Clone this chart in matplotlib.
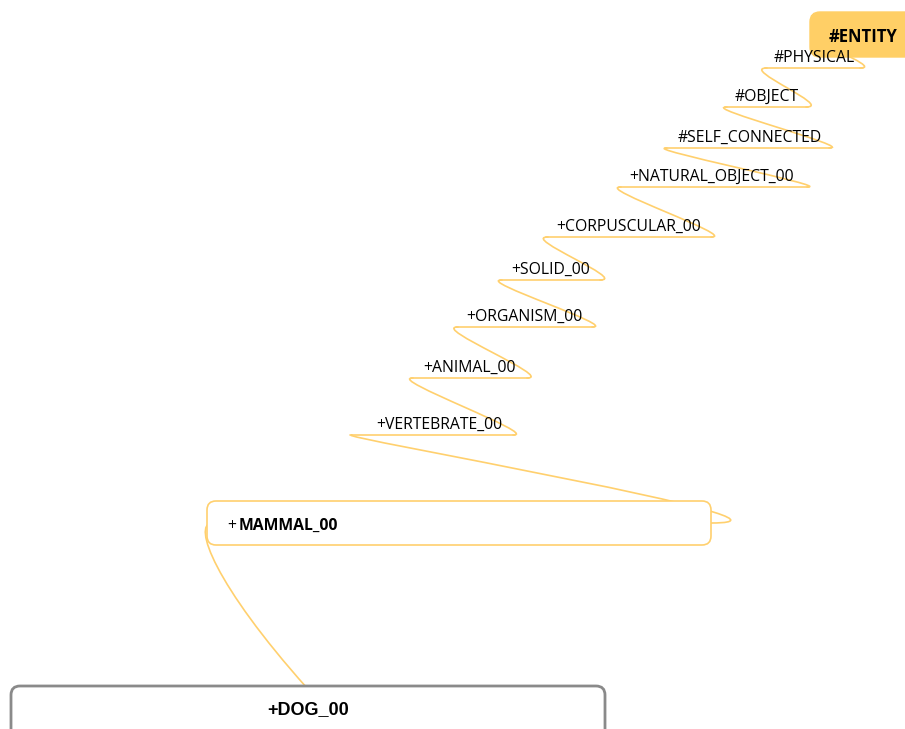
import matplotlib
matplotlib.use("Agg")
import matplotlib.pyplot as plt
from matplotlib.patches import FancyBboxPatch, PathPatch
from matplotlib.path import Path

# hierarchy (top -> bottom)
root_label = "#ENTITY"
chain_labels = ["#PHYSICAL", "#OBJECT", "#SELF_CONNECTED", "+NATURAL_OBJECT_00",
                "+CORPUSCULAR_00", "+SOLID_00", "+ORGANISM_00", "+ANIMAL_00",
                "+VERTEBRATE_00"]
parent_label = "MAMMAL_00"
focus_label = "+DOG_00"

# layout of the mind map (pixels)
chain_y = [68, 107, 148, 187, 237, 280, 327, 378, 435]
chain_x0 = [762, 722, 662, 616, 543, 497, 453, 408, 347]
chain_x1 = [866, 811, 834, 812, 716, 605, 597, 532, 518]
chain_tx = [774, 735, 678, 629, 556, 511, 466, 423, 376]

LINE = "#ffd06e"
FILL = "#ffcf66"
FS = 11.3

fig = plt.figure(figsize=(9.05, 7.29), dpi=100)
ax = fig.add_axes([0, 0, 1, 1])
ax.set_xlim(0, 905)
ax.set_ylim(729, 0)
ax.axis("off")


def connector(x0, y0, x1, y1, d0=28, d1=28, z=1):
    # S-shaped link from a parent's left end to a child's right end
    verts = [(x0, y0), (x0 - d0, y0), (x1 + d1, y1), (x1, y1)]
    codes = [Path.MOVETO, Path.CURVE4, Path.CURVE4, Path.CURVE4]
    ax.add_patch(PathPatch(Path(verts, codes), fill=False, ec=LINE, lw=1.2,
                           capstyle="round", zorder=z))


# root node
ax.add_patch(FancyBboxPatch((810, 12), 110, 45, boxstyle="round,pad=0,rounding_size=10",
                            fc=FILL, ec=FILL, zorder=3))
ax.text(829, 36.5, root_label, fontsize=12, fontweight="bold", family="Open Sans",
        va="center", ha="left", zorder=4)
connector(818, 35, chain_x1[0] - 6, chain_y[0], d0=26, d1=26)

for i, lab in enumerate(chain_labels):
    ax.plot([chain_x0[i] + 3, chain_x1[i] - 3], [chain_y[i], chain_y[i]], color=LINE,
            lw=1.2, solid_capstyle="round")
    ax.text(chain_tx[i], chain_y[i] - 10, lab, fontsize=FS, family="Open Sans",
            va="center", ha="left", zorder=4)
    if i > 0:
        connector(chain_x0[i - 1] + 5, chain_y[i - 1], chain_x1[i] - 5, chain_y[i])

# parent node box
connector(chain_x0[-1] + 5, chain_y[-1], 711, 523, d0=28, d1=125)
ax.add_patch(FancyBboxPatch((207, 501), 504, 44, boxstyle="round,pad=0,rounding_size=9",
                            fc="white", ec=LINE, lw=1.2, zorder=3))
ax.text(227, 526, "+", fontsize=FS, family="Open Sans", va="center", ha="left", zorder=4)
ax.text(239, 526, parent_label, fontsize=FS, fontweight="bold", family="Open Sans",
        va="center", ha="left", zorder=4)

# focus node box
verts = [(212, 523), (192, 524), (215, 585), (307, 688)]
codes = [Path.MOVETO, Path.CURVE4, Path.CURVE4, Path.CURVE4]
ax.add_patch(PathPatch(Path(verts, codes), fill=False, ec=LINE, lw=1.2, zorder=1))
ax.add_patch(FancyBboxPatch((11, 686), 594, 60, boxstyle="round,pad=0,rounding_size=9",
                            fc="white", ec="#8a8a8a", lw=2, zorder=3))
ax.text(308, 710, focus_label, fontsize=13, fontweight="bold", family="Liberation Sans",
        va="center", ha="center", zorder=4)

fig.savefig("out.png", dpi=100)
